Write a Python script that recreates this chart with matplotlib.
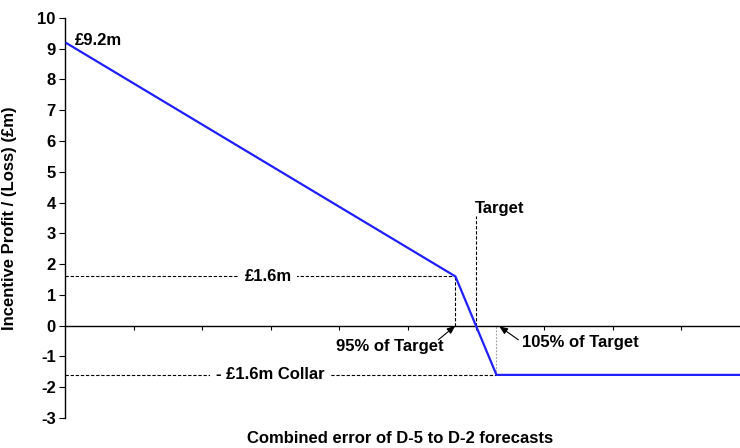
import matplotlib.pyplot as plt

plt.rcParams['font.family'] = ['Liberation Sans', 'DejaVu Sans']
plt.rcParams['font.weight'] = 'bold'
plt.rcParams['axes.unicode_minus'] = False

# incentive profile (x in arbitrary error units, y in £m)
err_x = [0.0, 5.7, 6.3, 9.86]
profit_y = [9.2, 1.6, -1.6, -1.6]
target_x = 6.0
cap_val = 1.6
collar_val = -1.6
y_ticks = list(range(-3, 11))
x_ticks = list(range(1, 10))

fig = plt.figure(figsize=(7.4, 4.48), dpi=100)
ax = fig.add_axes([0.0885, 0.067, 0.9115, 0.893])

ax.plot(err_x, profit_y, color='#2020ff', lw=1.6, zorder=3, solid_capstyle='butt')

dash = dict(color='black', lw=0.8, dashes=(3, 1.6))
# cap and collar guides
ax.plot([0, err_x[1]], [cap_val, cap_val], **dash)
ax.plot([err_x[1], err_x[1]], [0, cap_val], **dash)
ax.plot([0, err_x[2]], [collar_val, collar_val], **dash)
ax.plot([target_x, target_x], [0, 3.55], **dash)
ax.plot([err_x[2], err_x[2]], [collar_val, 0], color='#999999', lw=0.8, dashes=(1.5, 1.5))

ax.text(2.96, cap_val, '£1.6m', ha='center', va='center', fontsize=12,
        bbox=dict(facecolor='white', edgecolor='none', pad=4))
ax.text(2.99, collar_val, '- £1.6m Collar', ha='center', va='center', fontsize=12,
        bbox=dict(facecolor='white', edgecolor='none', pad=4))
ax.text(0.14, 9.28, '£9.2m', ha='left', va='center', fontsize=12)
ax.text(5.98, 3.55, 'Target', ha='left', va='bottom', fontsize=12)

arrow = dict(arrowstyle='-|>,head_length=0.5,head_width=0.2', color='black', lw=0.8, shrinkA=0, shrinkB=0)
ax.text(4.74, -0.68, '95% of Target', ha='center', va='center', fontsize=12)
ax.annotate('', xy=(err_x[1], 0.0), xytext=(5.45, -0.46), arrowprops=arrow)
ax.text(6.67, -0.55, '105% of Target', ha='left', va='center', fontsize=12)
ax.annotate('', xy=(6.34, -0.02), xytext=(6.62, -0.46), arrowprops=arrow)

ax.set_xlim(0, 9.86)
ax.set_ylim(-3, 10)
ax.set_yticks(y_ticks)
ax.set_xticks(x_ticks)
ax.set_xticklabels([])
ax.spines['top'].set_visible(False)
ax.spines['right'].set_visible(False)
ax.spines['bottom'].set_position(('data', 0))
ax.spines['left'].set_linewidth(1.0)
ax.spines['bottom'].set_linewidth(1.0)
ax.tick_params(axis='y', direction='out', length=4, labelsize=12, pad=3)
ax.tick_params(axis='x', direction='out', length=3)
for lab in ax.get_yticklabels():
    lab.set_fontweight('bold')

ax.set_ylabel('Incentive Profit / (Loss) (£m)', fontsize=12, fontweight='bold')
ax.yaxis.set_label_coords(-0.072, 0.5)
fig.text(0.541, 0.004, 'Combined error of D-5 to D-2 forecasts', ha='center', va='bottom',
         fontsize=12, fontweight='bold')

fig.savefig('out.png', dpi=100)
